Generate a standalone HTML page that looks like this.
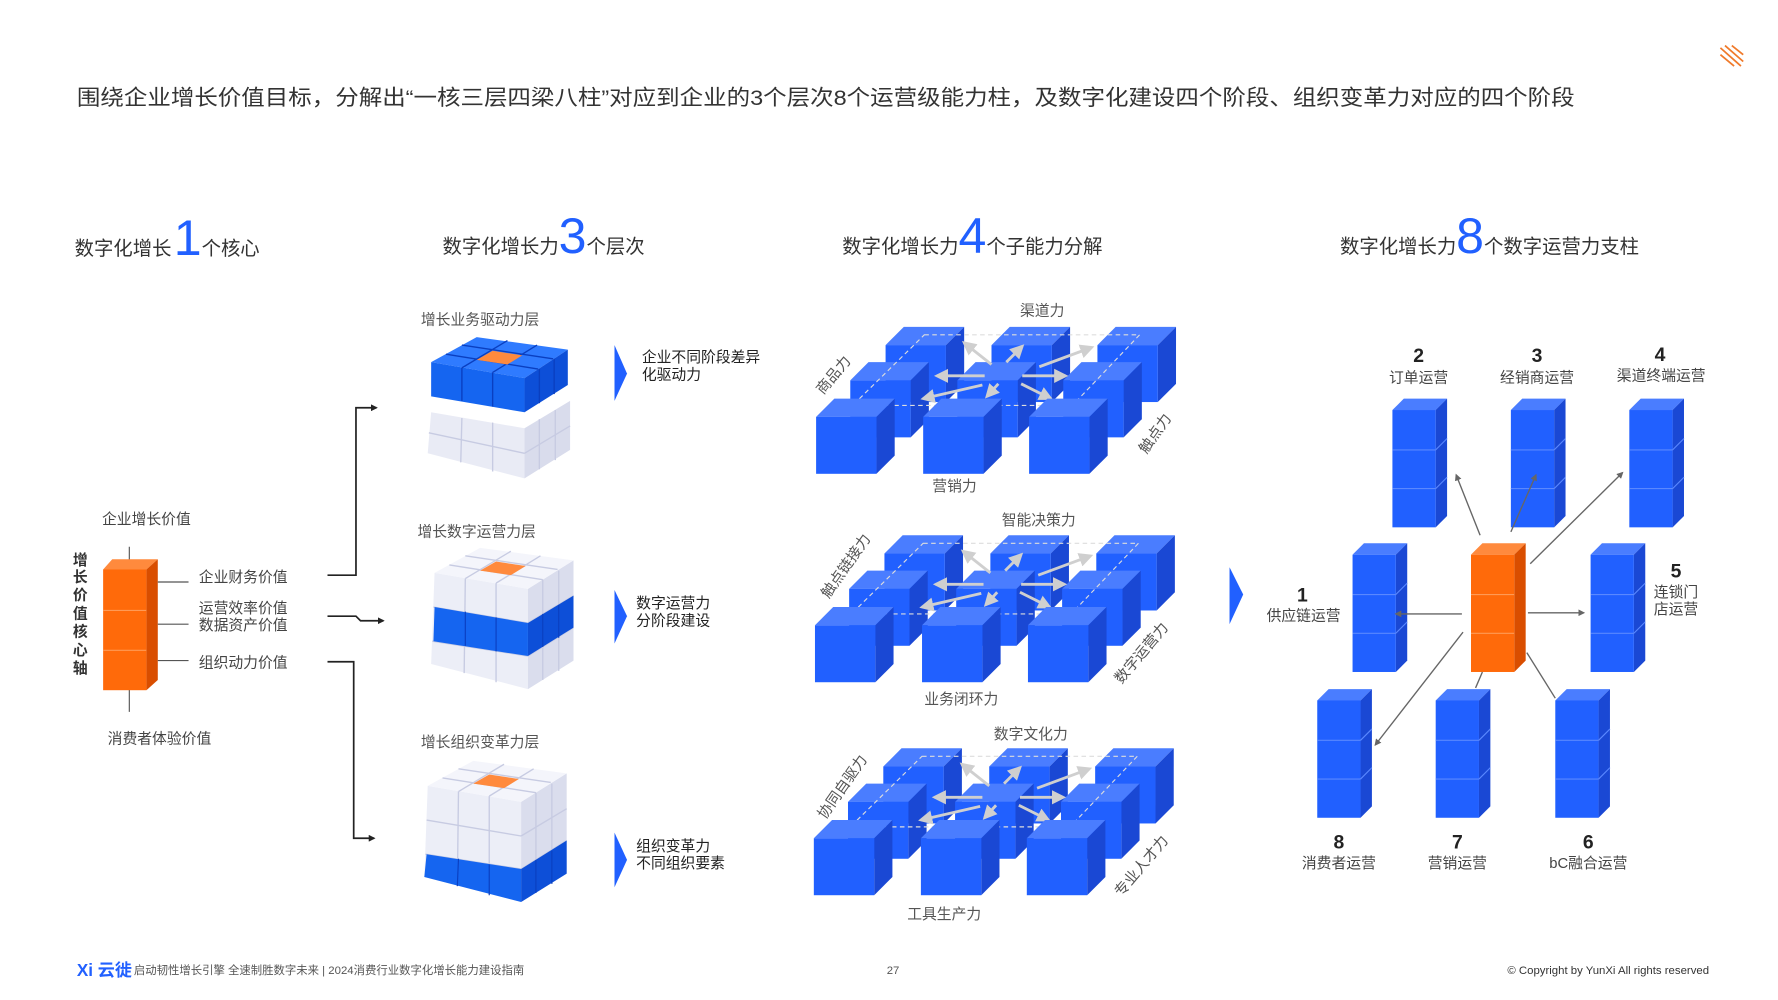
<!DOCTYPE html>
<html><head><meta charset="utf-8"><style>
html,body{margin:0;padding:0;background:#fff;}
svg{display:block;font-family:"Liberation Sans","Noto Sans CJK SC",sans-serif;}
</style></head><body>
<svg width="1778" height="1000" viewBox="0 0 1560 878" xmlns="http://www.w3.org/2000/svg">
<defs>
<symbol id="cb" overflow="visible">
<polygon points="0,16 16,0 69,0 53,16" fill="#4a7dff"/>
<polygon points="53,16 69,0 69,50 53,66" fill="#1a48d4"/>
<rect x="0" y="16" width="53" height="50" fill="#2160ff"/>
</symbol>
<symbol id="sc" overflow="visible">
<polygon points="0,10 10,0 48,0 38,10" fill="#4a7dff"/>
<polygon points="38,10 48,0 48,103 38,113" fill="#1a48d4"/>
<rect x="0" y="10" width="38" height="103" fill="#2160ff"/>
<line x1="0" y1="45" x2="38" y2="45" stroke="#5a88ff" stroke-width="1"/>
<line x1="0" y1="79" x2="38" y2="79" stroke="#5a88ff" stroke-width="1"/>
<line x1="38" y1="45" x2="48" y2="35" stroke="#5a88ff"/>
<line x1="38" y1="79" x2="48" y2="69" stroke="#5a88ff"/>
</symbol>
<symbol id="oc" overflow="visible">
<polygon points="0,10 10,0 48,0 38,10" fill="#ff8a3d"/>
<polygon points="38,10 48,0 48,103 38,113" fill="#d94e00"/>
<rect x="0" y="10" width="38" height="103" fill="#ff6a0a"/>
<line x1="0" y1="45" x2="38" y2="45" stroke="#ff9a55"/>
<line x1="0" y1="79" x2="38" y2="79" stroke="#ff9a55"/>
</symbol>
<marker id="ga" viewBox="0 0 10 10" refX="8" refY="5" markerWidth="5" markerHeight="5" orient="auto"><path d="M0,0L10,5L0,10z" fill="#cfcfcf"/></marker>
<marker id="ka" viewBox="0 0 10 10" refX="8" refY="5" markerWidth="4" markerHeight="4" orient="auto"><path d="M0,0L10,5L0,10z" fill="#222"/></marker>
<marker id="da" viewBox="0 0 10 10" refX="8" refY="5" markerWidth="5" markerHeight="5" orient="auto"><path d="M0,0L10,5L0,10z" fill="#666"/></marker>
<g id="grp">
<use href="#cb" x="777" y="287"/><use href="#cb" x="870" y="287"/><use href="#cb" x="963" y="287"/>
<use href="#cb" x="746" y="318"/><use href="#cb" x="840" y="318"/><use href="#cb" x="933" y="318"/>
<polygon points="811,294 1000,294 941,356 748,356" fill="none" stroke="#ddd" stroke-dasharray="4,3" stroke-width="1"/>
<g stroke="#cfcfcf" stroke-width="2.5" fill="none" marker-end="url(#ga)">
<line x1="870" y1="320" x2="846" y2="301"/>
<line x1="883" y1="318" x2="897" y2="304"/>
<line x1="912" y1="322" x2="958" y2="305"/>
<line x1="864" y1="330" x2="822" y2="330"/>
<line x1="897" y1="330" x2="935" y2="330"/>
<line x1="862" y1="338" x2="810" y2="350"/>
<line x1="876" y1="337" x2="866" y2="348"/>
<line x1="896" y1="337" x2="922" y2="350"/>
</g>
<use href="#cb" x="716" y="350"/><use href="#cb" x="810" y="350"/><use href="#cb" x="903" y="350"/>
</g>
<g id="rb">
<polygon points="378,362 460,376 460,420 375,398" fill="#e9ebf5"/>
<polygon points="460,376 500,352 500,395 460,420" fill="#d9dcec"/>
<g stroke="#c7cbe2" stroke-width="1.2">
<line x1="405" y1="367" x2="404" y2="406"/><line x1="432" y1="371" x2="432" y2="414"/>
<line x1="473" y1="368" x2="473" y2="412"/><line x1="487" y1="360" x2="487" y2="404"/>
<line x1="376" y1="380" x2="460" y2="398"/><line x1="460" y1="398" x2="500" y2="374"/></g>
<polygon points="378,318 418,296 498,307 460,332" fill="#2f7bff"/>
<polygon points="378,318 460,332 460,362 378,348" fill="#1565f0"/>
<polygon points="460,332 498,307 498,338 460,362" fill="#0d4fd8"/>
<g stroke="#0a3fc0" stroke-width="1.2">
<line x1="391" y1="311" x2="472" y2="324"/><line x1="405" y1="303" x2="485" y2="315"/>
<line x1="405" y1="323" x2="445" y2="299"/><line x1="432" y1="327" x2="471" y2="303"/>
<line x1="405" y1="323" x2="405" y2="352"/><line x1="432" y1="327" x2="432" y2="357"/>
<line x1="473" y1="324" x2="473" y2="354"/><line x1="486" y1="315" x2="486" y2="346"/></g>
<polygon points="418,316 432,308 458,312 445,320" fill="#ff8a3d"/>
</g>
<g id="rw">
<polygon points="378,318 460,332 460,420 375,398" fill="#eceef7"/>
<polygon points="460,332 500,307 500,395 460,420" fill="#dadded"/>
<polygon points="378,318 418,296 500,307 460,332" fill="#f4f5fb"/>
<g stroke="#c7cbe2" stroke-width="1.2">
<line x1="391" y1="311" x2="473" y2="324"/><line x1="405" y1="303" x2="486" y2="315"/>
<line x1="405" y1="323" x2="445" y2="299"/><line x1="432" y1="327" x2="471" y2="303"/>
<line x1="405" y1="323" x2="404" y2="406"/><line x1="432" y1="327" x2="432" y2="414"/>
<line x1="473" y1="324" x2="473" y2="412"/><line x1="487" y1="316" x2="487" y2="404"/>
<line x1="377" y1="348" x2="460" y2="362"/><line x1="376" y1="378" x2="460" y2="391"/>
<line x1="460" y1="362" x2="500" y2="338"/><line x1="460" y1="391" x2="500" y2="366"/></g>
<polygon points="418,316 432,308 458,312 445,320" fill="#ff8a3d"/>
</g>
</defs>

<g stroke="#f07a2a" stroke-width="1.5"><line x1="1510" y1="48" x2="1522" y2="58"/><line x1="1510" y1="42" x2="1528" y2="58"/><line x1="1514" y1="40" x2="1530" y2="54"/><line x1="1520" y1="40" x2="1530" y2="48"/></g>

<text x="67" y="92" font-size="19" fill="#333" textLength="1315" lengthAdjust="spacingAndGlyphs">围绕企业增长价值目标，分解出“一核三层四梁八柱”对应到企业的3个层次8个运营级能力柱，及数字化建设四个阶段、组织变革力对应的四个阶段</text>

<text x="65" y="224" font-size="17" fill="#333">数字化增长<tspan font-size="44" fill="#2160ff" dx="2">1</tspan><tspan>个核心</tspan></text>
<text x="388" y="222" font-size="17" fill="#333">数字化增长力<tspan font-size="44" fill="#2160ff">3</tspan><tspan>个层次</tspan></text>
<text x="739" y="222" font-size="17" fill="#333">数字化增长力<tspan font-size="44" fill="#2160ff">4</tspan><tspan>个子能力分解</tspan></text>
<text x="1176" y="222" font-size="17" fill="#333">数字化增长力<tspan font-size="44" fill="#2160ff">8</tspan><tspan>个数字运营力支柱</tspan></text>

<text x="89" y="460" font-size="13" fill="#444">企业增长价值</text>
<text x="94" y="653" font-size="13" fill="#444">消费者体验价值</text>
<g font-size="13" fill="#333" font-weight="bold" text-anchor="middle">
<text x="70" y="496">增</text><text x="70" y="511">长</text><text x="70" y="527">价</text><text x="70" y="543">值</text><text x="70" y="559">核</text><text x="70" y="575">心</text><text x="70" y="591">轴</text></g>
<line x1="113" y1="480" x2="113" y2="625" stroke="#555" stroke-width="1"/>
<polygon points="90,500 98,491 138,491 128,500" fill="#ff8a3d"/>
<polygon points="128,500 138,491 138,597 128,606" fill="#d94e00"/>
<rect x="90" y="500" width="38" height="106" fill="#ff6a0a"/>
<line x1="90" y1="536" x2="128" y2="536" stroke="#ff9a55"/><line x1="90" y1="571" x2="128" y2="571" stroke="#ff9a55"/>
<g stroke="#555" stroke-width="1"><line x1="138" y1="511" x2="165" y2="511"/><line x1="138" y1="548" x2="165" y2="548"/><line x1="138" y1="580" x2="165" y2="580"/></g>
<g font-size="13" fill="#444"><text x="174" y="511">企业财务价值</text><text x="174" y="538">运营效率价值</text><text x="174" y="553">数据资产价值</text><text x="174" y="586">组织动力价值</text></g>

<g stroke="#222" stroke-width="1.5" fill="none">
<polyline points="287,505 312,505 312,358 330,358" marker-end="url(#ka)"/>
<polyline points="287,541 312,541 316,545 336,545" marker-end="url(#ka)"/>
<polyline points="287,581 310,581 310,736 328,736" marker-end="url(#ka)"/></g>

<text x="369" y="285" font-size="13" fill="#555">增长业务驱动力层</text>
<text x="366" y="471" font-size="13" fill="#555">增长数字运营力层</text>
<text x="369" y="656" font-size="13" fill="#555">增长组织变革力层</text>
<use href="#rb"/>
<g transform="translate(3,185)"><use href="#rw"/>
<polygon points="378,348 460,362 460,391 377,378" fill="#1565f0"/><polygon points="460,362 500,338 500,366 460,391" fill="#0d4fd8"/>
<g stroke="#0a3fc0"><line x1="405" y1="352" x2="405" y2="382"/><line x1="432" y1="357" x2="432" y2="387"/><line x1="473" y1="354" x2="473" y2="383"/><line x1="487" y1="346" x2="487" y2="375"/></g></g>
<g transform="translate(-3,372)"><use href="#rw"/>
<polygon points="377,378 460,391 460,420 375,398" fill="#1565f0"/><polygon points="460,391 500,366 500,395 460,420" fill="#0d4fd8"/>
<g stroke="#0a3fc0"><line x1="405" y1="382" x2="404" y2="406"/><line x1="432" y1="387" x2="432" y2="414"/><line x1="473" y1="383" x2="473" y2="412"/><line x1="487" y1="375" x2="487" y2="404"/></g></g>

<g fill="#2160ff"><polygon points="539,303 550,328 539,352"/><polygon points="539,518 550,541 539,565"/><polygon points="539,731 550,755 539,779"/><polygon points="1079,498 1091,522 1079,548"/></g>
<g font-size="13" fill="#222"><text x="563" y="318">企业不同阶段差异</text><text x="563" y="333">化驱动力</text>
<text x="558" y="534">数字运营力</text><text x="558" y="549">分阶段建设</text>
<text x="558" y="747">组织变革力</text><text x="558" y="762">不同组织要素</text></g>

<use href="#grp"/>
<use href="#grp" transform="translate(-1,183)"/>
<use href="#grp" transform="translate(-2,370)"/>
<g font-size="13" fill="#555">
<text x="895" y="277">渠道力</text><text x="818" y="431">营销力</text>
<text x="879" y="461">智能决策力</text><text x="811" y="618">业务闭环力</text>
<text x="872" y="649">数字文化力</text><text x="796" y="807">工具生产力</text>
<text transform="translate(722,347) rotate(-50)">商品力</text>
<text transform="translate(1006,399) rotate(-55)">触点力</text>
<text transform="translate(727,526) rotate(-55)">触点链接力</text>
<text transform="translate(984,601) rotate(-50)">数字运营力</text>
<text transform="translate(724,720) rotate(-55)">协同自驱力</text>
<text transform="translate(984,788) rotate(-50)">专业人才力</text></g>

<use href="#sc" x="1222" y="350"/><use href="#sc" x="1326" y="350"/><use href="#sc" x="1430" y="350"/>
<use href="#sc" x="1187" y="477"/><use href="#oc" x="1291" y="477"/><use href="#sc" x="1396" y="477"/>
<use href="#sc" x="1156" y="605"/><use href="#sc" x="1260" y="605"/><use href="#sc" x="1365" y="605"/>
<g stroke="#666" stroke-width="1.2" fill="none" marker-end="url(#da)">
<line x1="1299" y1="470" x2="1278" y2="417"/><line x1="1326" y1="467" x2="1348" y2="417"/>
<line x1="1343" y1="495" x2="1424" y2="415"/><line x1="1283" y1="539" x2="1225" y2="539"/>
<line x1="1341" y1="538" x2="1390" y2="538"/><line x1="1284" y1="555" x2="1207" y2="654"/></g>
<line x1="1301" y1="590" x2="1295" y2="604" stroke="#666" stroke-width="1.2"/>
<line x1="1340" y1="573" x2="1365" y2="613" stroke="#666" stroke-width="1.2"/>
<g font-size="17" font-weight="bold" fill="#222" text-anchor="middle">
<text x="1245" y="318">2</text><text x="1349" y="318">3</text><text x="1457" y="317">4</text>
<text x="1143" y="528">1</text><text x="1471" y="507">5</text>
<text x="1175" y="745">8</text><text x="1279" y="745">7</text><text x="1394" y="745">6</text></g>
<g font-size="13" fill="#444" text-anchor="middle">
<text x="1245" y="336">订单运营</text><text x="1349" y="336">经销商运营</text><text x="1458" y="334">渠道终端运营</text>
<text x="1144" y="545">供应链运营</text><text x="1471" y="524">连锁门</text><text x="1471" y="539">店运营</text>
<text x="1175" y="762">消费者运营</text><text x="1279" y="762">营销运营</text><text x="1394" y="762">bC融合运营</text></g>

<text x="67" y="857" font-size="15" font-weight="bold" fill="#2160ff">Xi 云徙</text>
<text x="117" y="855" font-size="10" fill="#555">启动韧性增长引擎 全速制胜数字未来 | 2024消费行业数字化增长能力建设指南</text>
<text x="778" y="855" font-size="10" fill="#555">27</text>
<text x="1500" y="855" font-size="10" fill="#333" text-anchor="end">© Copyright by YunXi All rights reserved</text>
</svg>
</body></html>
